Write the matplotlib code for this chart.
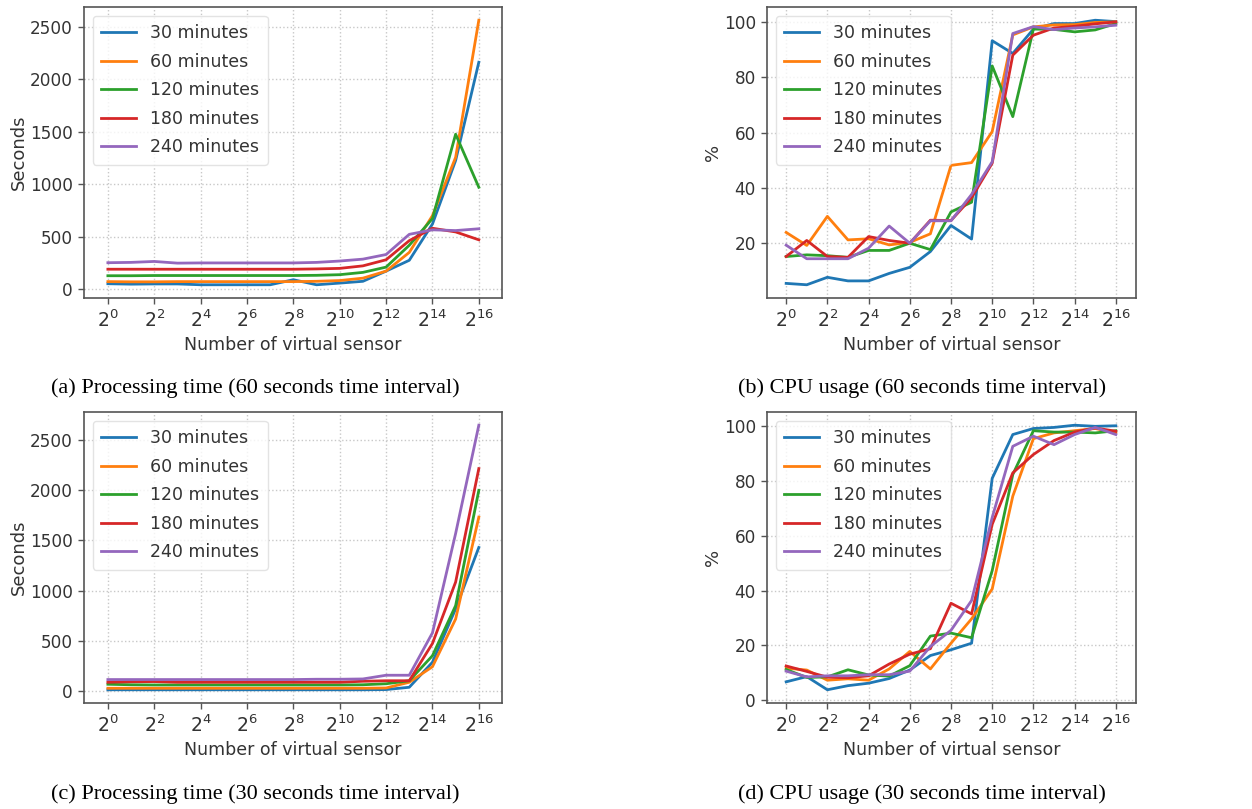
import matplotlib
matplotlib.use("Agg")
import matplotlib.pyplot as plt
from matplotlib.ticker import NullLocator, FixedLocator

# ---------------- data ----------------
sensors = [1, 2, 4, 8, 16, 32, 64, 128, 256, 512, 1024, 2048, 4096,
           8192, 16384, 32768, 65536]
series_labels = ["30 minutes", "60 minutes", "120 minutes", "180 minutes", "240 minutes"]
colors = ["#1f77b4", "#ff7f0e", "#2ca02c", "#d62728", "#9467bd"]

# (a) processing time, 60 s interval
a_30 = [52, 48, 50, 50, 42, 42, 42, 42, 90, 42, 58, 75, 172, 275, 620, 1225, 2160]
a_60 = [72, 70, 70, 72, 72, 72, 72, 72, 72, 75, 82, 105, 172, 350, 700, 1255, 2560]
a_120 = [128, 128, 130, 130, 130, 130, 130, 130, 130, 132, 138, 160, 210, 418, 672, 1475, 970]
a_180 = [190, 190, 190, 190, 190, 190, 190, 190, 190, 193, 198, 222, 280, 462, 580, 545, 470]
a_240 = [252, 255, 264, 248, 250, 250, 250, 250, 250, 255, 268, 286, 330, 522, 565, 558, 575]

# (b) CPU usage, 60 s interval
b_30 = [5.6, 5.1, 7.8, 6.5, 6.5, 9.2, 11.4, 17.1, 26.5, 21.6, 93.2, 88.6, 97.4, 99.4, 99.4, 100.6, 100.1]
b_60 = [24.0, 19.3, 29.8, 21.3, 21.7, 19.5, 20.4, 23.5, 48.2, 49.2, 60.4, 95.3, 98.2, 98.9, 99.0, 99.8, 100.0]
b_120 = [15.3, 15.9, 15.6, 15.0, 17.5, 17.5, 20.1, 17.8, 31.4, 34.9, 84.1, 65.8, 97.4, 97.3, 96.4, 97.1, 99.4]
b_180 = [15.3, 21.1, 15.3, 15.0, 22.5, 21.1, 20.1, 28.4, 28.3, 36.5, 49.0, 88.0, 95.2, 97.8, 98.4, 99.3, 100.0]
b_240 = [19.4, 14.5, 14.5, 14.5, 18.3, 26.3, 20.1, 28.2, 28.2, 37.7, 49.5, 95.8, 98.3, 97.2, 97.8, 98.2, 98.8]

# (c) processing time, 30 s interval
c_30 = [10, 10, 10, 10, 10, 10, 10, 10, 10, 10, 10, 10, 12, 35, 285, 818, 1430]
c_60 = [25, 25, 25, 25, 25, 25, 25, 25, 25, 25, 25, 25, 28, 85, 240, 716, 1733]
c_120 = [65, 60, 58, 58, 58, 58, 58, 58, 58, 58, 58, 60, 70, 100, 350, 850, 2000]
c_180 = [85, 90, 92, 85, 85, 85, 85, 85, 85, 85, 85, 95, 100, 100, 472, 1085, 2217]
c_240 = [112, 112, 112, 112, 112, 112, 112, 112, 112, 115, 115, 118, 155, 155, 578, 1570, 2650]

# (d) CPU usage, 30 s interval
d_30 = [6.7, 8.6, 3.8, 5.3, 6.2, 7.9, 11.0, 16.3, 18.4, 20.8, 81.0, 97.0, 99.2, 99.6, 100.4, 100.0, 100.2]
d_60 = [11.7, 11.0, 7.3, 7.8, 7.3, 11.4, 17.8, 11.4, 20.8, 29.7, 40.6, 74.5, 95.5, 97.6, 98.4, 99.2, 97.6]
d_120 = [11.2, 8.3, 8.5, 11.1, 9.2, 8.8, 12.6, 23.4, 24.5, 22.8, 47.3, 82.4, 98.4, 97.9, 97.9, 97.6, 98.4]
d_180 = [12.5, 10.5, 8.4, 8.2, 8.9, 13.2, 16.8, 18.8, 35.4, 31.5, 64.2, 83.0, 89.7, 94.8, 97.9, 99.4, 98.2]
d_240 = [10.6, 8.5, 8.9, 8.9, 9.3, 9.3, 10.6, 19.6, 25.5, 36.4, 66.7, 92.7, 96.4, 93.3, 97.0, 99.6, 97.0]

panels = [
    ([a_30, a_60, a_120, a_180, a_240], "Seconds", "(a) Processing time (60 seconds time interval)"),
    ([b_30, b_60, b_120, b_180, b_240], "%", "(b) CPU usage (60 seconds time interval)"),
    ([c_30, c_60, c_120, c_180, c_240], "Seconds", "(c) Processing time (30 seconds time interval)"),
    ([d_30, d_60, d_120, d_180, d_240], "%", "(d) CPU usage (30 seconds time interval)"),
]
xticks = [1, 4, 16, 64, 256, 1024, 4096, 16384, 65536]
xlabel = "Number of virtual sensor"

# ---------------- layout ----------------
W, H = 1252, 809
fig = plt.figure(figsize=(W / 100, H / 100), dpi=100)
txt = "#333333"
plt.rcParams["font.family"] = ["DejaVu Sans"]

# axes boxes in pixels: left, top, right, bottom
boxes = [
    (84, 7, 502, 298),
    (767, 7, 1136, 298),
    (84, 412, 502, 703),
    (767, 412, 1136, 703),
]
xlims = [(-1.03, 17.0), (-0.93, 16.98), (-1.03, 17.0), (-0.93, 16.98)]
cap_pos = [(255, 388), (922, 388), (255, 794), (922, 794)]

for (data, ylab, cap), (l, t, r, b), xl, (cx, cy) in zip(panels, boxes, xlims, cap_pos):
    ax = fig.add_axes([l / W, 1 - b / H, (r - l) / W, (b - t) / H])
    for vals, lab, col in zip(data, series_labels, colors):
        ax.plot(sensors, vals, color=col, lw=2.0, label=lab)
    ax.set_xscale("log", base=2)
    ax.set_xlim(2 ** xl[0], 2 ** xl[1])
    ax.xaxis.set_major_locator(FixedLocator(xticks))
    ax.xaxis.set_minor_locator(NullLocator())
    ax.grid(True, which="major", linestyle=":", color="#c8c8c8", lw=1.0)
    ax.set_axisbelow(True)
    for s in ax.spines.values():
        s.set_color("#555555")
        s.set_linewidth(1.2)
    ax.tick_params(colors="#555555", labelcolor=txt, length=4.5, width=1.0)
    ax.tick_params(axis="y", labelsize=12.2)
    ax.tick_params(axis="x", labelsize=13.5)
    ax.set_xlabel(xlabel, fontsize=12.5, color=txt)
    ax.set_ylabel(ylab, fontsize=13, color=txt, labelpad=1.5)
    leg = ax.legend(loc="upper left", fontsize=12.5, frameon=True, fancybox=True,
                    handlelength=2.0, labelspacing=0.6, borderpad=0.5)
    leg.get_frame().set_edgecolor("#dddddd")
    for tx in leg.get_texts():
        tx.set_color(txt)
    fig.text(cx / W, 1 - cy / H, cap, ha="center", va="center",
             fontsize=16, family=["Liberation Serif", "DejaVu Serif"], color="black")

fig.savefig("out.png", dpi=100)
